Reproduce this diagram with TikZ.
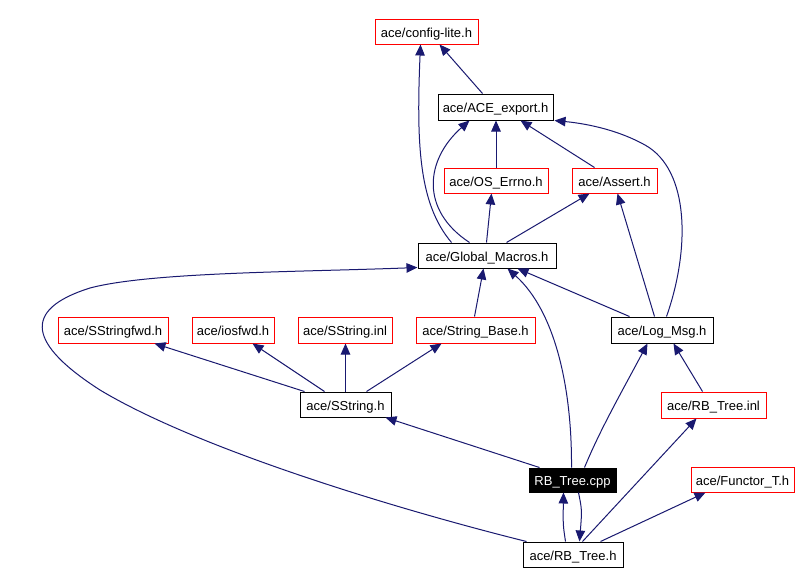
\documentclass[tikz,border=0pt]{standalone}
\usepackage{fontspec}
\setmainfont{Liberation Sans}
\usetikzlibrary{arrows.meta,calc}
\definecolor{edgeblue}{RGB}{25,25,112}
\definecolor{redborder}{RGB}{255,0,0}
\begin{document}
\begin{tikzpicture}[x=1pt,y=-1pt,
  box/.style={draw=black,line width=1pt,inner sep=0pt,minimum height=25pt,text height=12pt,text depth=0.5pt,font=\fontsize{13}{15}\selectfont,fill=white},
  redbox/.style={box,draw=redborder},
  curbox/.style={box,fill=black,text=white},
  dep/.style={draw=edgeblue,line width=1pt,-{Triangle[length=11pt,width=9.5pt]},fill=none}]
\useasboundingbox (0,0) rectangle (799,584);
\fill[white] (0,0) rectangle (799,584);
% nodes
\node[redbox,minimum width=103pt] (cfg) at (426.5,31.5) {ace/config-lite.h};
\node[box,minimum width=115pt,minimum height=26pt] (exp) at (495.5,107) {ace/ACE\_export.h};
\node[redbox,minimum width=104pt] (err) at (496,180.5) {ace/OS\_Errno.h};
\node[redbox,minimum width=85pt] (ast) at (614.5,180.5) {ace/Assert.h};
\node[box,minimum width=138pt] (gm) at (487,255.5) {ace/Global\_Macros.h};
\node[redbox,minimum width=110pt,minimum height=26pt] (sfwd) at (113,330) {ace/SStringfwd.h};
\node[redbox,minimum width=82pt,minimum height=26pt] (ios) at (233,330) {ace/iosfwd.h};
\node[redbox,minimum width=94pt,minimum height=26pt] (sinl) at (345,330) {ace/SString.inl};
\node[redbox,minimum width=119pt,minimum height=26pt] (sbase) at (475.5,330) {ace/String\_Base.h};
\node[box,minimum width=102pt,minimum height=26pt] (log) at (662,330) {ace/Log\_Msg.h};
\node[box,minimum width=91pt] (ssh) at (345.5,404.5) {ace/SString.h};
\node[redbox,minimum width=105pt,minimum height=26pt] (rbi) at (713.5,405) {ace/RB\_Tree.inl};
\node[curbox,minimum width=87pt,minimum height=24pt] (cpp) at (572.5,480) {RB\_Tree.cpp};
\node[redbox,minimum width=103pt] (fun) at (742.5,479.5) {ace/Functor\_T.h};
\node[box,minimum width=100pt] (rbh) at (573,554.5) {ace/RB\_Tree.h};
% edges
\draw[dep] ($(exp.north west)+(45,0)$) -- ($(cfg.south west)+(65,0)$);
\draw[dep] ($(gm.north west)+(34,0)$) .. controls (420,205) and (416,150) .. ($(cfg.south west)+(46,0)$);
\draw[dep] (err.north) -- (err.north |- exp.south);
\draw[dep] ($(ast.north west)+(23,0)$) -- ($(exp.south west)+(83,0)$);
\draw[dep] ($(log.north west)+(56,0)$) .. controls (690,250) and (690,170) .. (645,145) .. controls (620,131) and (590,124) .. ($(exp.south east)+(1,0)$);
\draw[dep] ($(gm.north west)+(52,0)$) .. controls (420,210) and (425,160) .. ($(exp.south west)+(32,0)$);
\draw[dep] ($(gm.north west)+(69,0)$) -- ($(err.south west)+(48,0)$);
\draw[dep] ($(gm.north west)+(89,0)$) -- ($(ast.south west)+(18,0)$);
\draw[dep] ($(log.north west)+(44,0)$) -- ($(ast.south west)+(46,0)$);
\draw[dep] ($(log.north west)+(19,0)$) -- ($(gm.south west)+(100,0)$);
\draw[dep] ($(sbase.north west)+(59,0)$) -- ($(gm.south west)+(66,0)$);
\draw[dep] ($(cpp.north west)+(43,0)$) .. controls (572,390) and (556,312) .. ($(gm.south west)+(90,0)$);
\draw[dep] ($(rbh.north west)+(4,0)$) .. controls (400,510) and (200,450) .. (100,390) .. controls (30,345) and (20,310) .. (90,288) .. controls (150,272) and (300,272) .. ($(gm.south west)+(0,-1)$);
\draw[dep] ($(ssh.north west)+(5,0)$) -- ($(sfwd.south west)+(97,0)$);
\draw[dep] ($(ssh.north west)+(25,0)$) -- ($(ios.south west)+(61,0)$);
\draw[dep] (ssh.north) -- (ssh.north |- sinl.south);
\draw[dep] ($(ssh.north west)+(67,0)$) -- ($(sbase.south west)+(26,0)$);
\draw[dep] ($(cpp.north west)+(11,0)$) -- ($(ssh.south west)+(86,0)$);
\draw[dep] ($(cpp.north west)+(56,0)$) .. controls (600,430) and (620,395) .. ($(log.south west)+(37,0)$);
\draw[dep] ($(rbi.north west)+(42,0)$) -- ($(log.south west)+(63,0)$);
\draw[dep] ($(rbh.north west)+(43,0)$) .. controls (563,525) .. ($(cpp.south west)+(35,0)$);
\draw[dep] ($(cpp.south west)+(50,0)$) .. controls (582,510) .. ($(rbh.north west)+(57,0)$);
\draw[dep] ($(rbh.north west)+(60,0)$) -- ($(rbi.south west)+(36,0)$);
\draw[dep] ($(rbh.north west)+(78,0)$) -- ($(fun.south west)+(15,0)$);
\end{tikzpicture}
\end{document}
